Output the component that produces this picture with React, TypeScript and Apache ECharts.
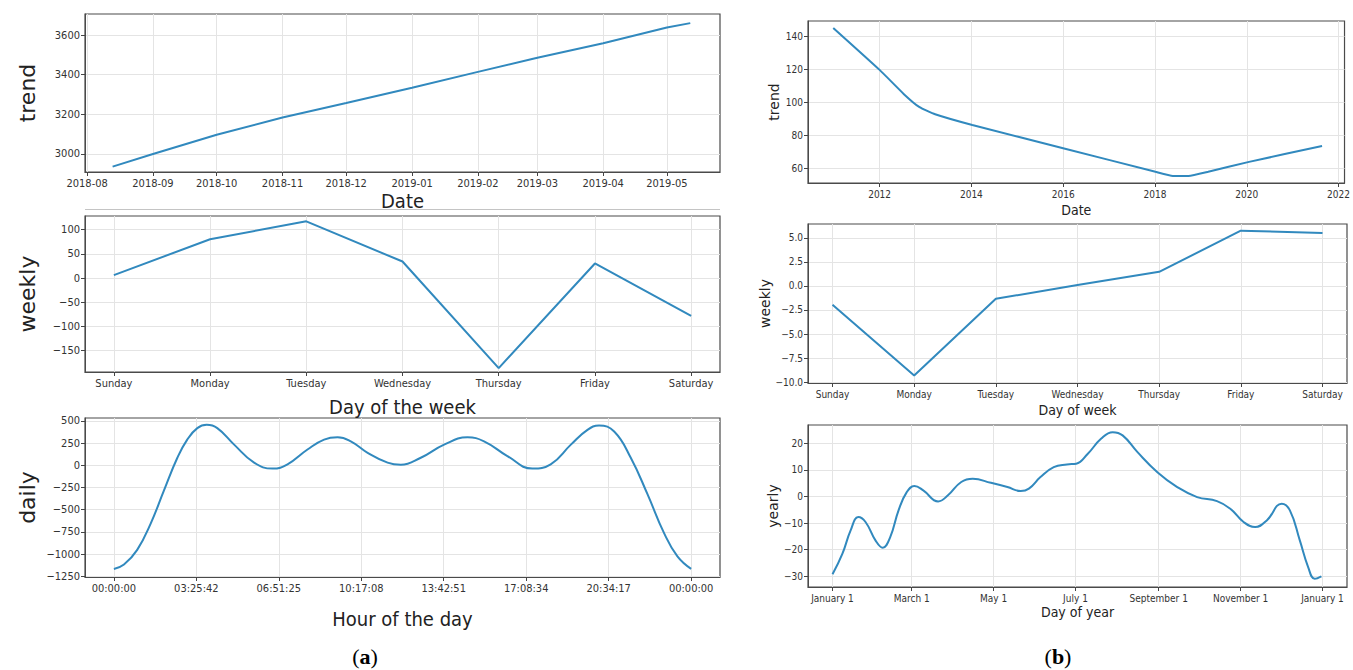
import { useEffect, useRef } from 'react';
import * as echarts from 'echarts';

// ---------- (a) trend ----------
const trendADates = ['2018-08-13', '2018-09-01', '2018-10-01', '2018-11-01', '2018-12-01', '2019-01-01', '2019-02-01', '2019-03-01', '2019-04-01', '2019-05-01', '2019-05-12'];
const trendAValues = [2936, 3000, 3097, 3184, 3257, 3334, 3414, 3485, 3558, 3638, 3660];
const trendAMonthTicks = ['2018-08', '2018-09', '2018-10', '2018-11', '2018-12', '2019-01', '2019-02', '2019-03', '2019-04', '2019-05'];
const trendAYTicks = [3000, 3200, 3400, 3600];

// ---------- (a) weekly ----------
const days = ['Sunday', 'Monday', 'Tuesday', 'Wednesday', 'Thursday', 'Friday', 'Saturday'];
const weeklyAValues = [6, 80, 117, 34, -186, 30, -78];
const weeklyAYTicks = [-150, -100, -50, 0, 50, 100];

// ---------- (a) daily ----------
const dailyHours = [0, 0.42, 0.97, 1.53, 2.08, 2.64, 3.05, 3.47, 3.86, 4.3, 5.0, 5.83, 6.6, 7.22, 8.05, 8.74, 9.3, 9.85, 10.55, 11.38, 11.93, 12.76, 13.73, 14.7, 15.39, 16.36, 17.4, 18.16, 19.0, 19.69, 20.17, 20.8, 21.49, 22.18, 22.88, 23.43, 24];
const dailyValues = [-1167, -1118, -952, -656, -285, 85, 289, 419, 456, 419, 233, 30, -37, 11, 178, 289, 315, 270, 141, 30, 6, 85, 233, 315, 270, 104, -37, 11, 233, 400, 448, 381, 85, -322, -767, -1026, -1167];
const dailyTickLabels = ['00:00:00', '03:25:42', '06:51:25', '10:17:08', '13:42:51', '17:08:34', '20:34:17', '00:00:00'];
const dailyYTicks = [-1250, -1000, -750, -500, -250, 0, 250, 500];

// ---------- (b) trend ----------
const trendBYears = [2010.99, 2012.0, 2012.53, 2012.87, 2013.21, 2014.02, 2016.02, 2018.01, 2018.39, 2018.73, 2019.16, 2020.05, 2021.64];
const trendBValues = [145.1, 119.7, 105, 97.1, 92.8, 86.3, 72.1, 58, 55.5, 55.5, 58, 64, 73.6];
const trendBXTicks = [2012, 2014, 2016, 2018, 2020, 2022];
const trendBYTicks = [60, 80, 100, 120, 140];

// ---------- (b) weekly ----------
const weeklyBValues = [-1.95, -9.32, -1.34, 0.1, 1.47, 5.75, 5.51];
const weeklyBYTicks = [-10, -7.5, -5, -2.5, 0, 2.5, 5];

// ---------- (b) yearly ----------
const yearlyDays = [0, 7.4, 13.5, 19.2, 24.6, 32, 37.4, 43, 49.2, 55.3, 61, 67.6, 78.7, 86, 95.9, 104.5, 118, 130.3, 140.2, 146.3, 154.9, 164.8, 174.6, 181.5, 190.2, 200, 208.7, 216.1, 227.2, 242, 256.8, 271.6, 286.4, 296.3, 306.2, 314.8, 323.5, 334.6, 340.7, 348.1, 354.3, 359.2, 364.2];
const yearlyValues = [-29.25, -21.5, -12.75, -7.75, -9.6, -16.5, -19.25, -15.25, -5.25, 1.6, 3.9, 2.25, -1.9, 0.4, 5.4, 6.6, 5.1, 3.5, 2, 2.9, 7.25, 11, 12, 12.25, 16, 21.6, 24.1, 22.9, 16.6, 9.1, 3.5, -0.25, -1.75, -4.6, -9.6, -11.5, -9, -2.75, -5.25, -16.5, -26.5, -30.9, -30];
const yearlyTickDays = [0, 59, 120, 181, 243, 304, 365];
const yearlyTickLabels = ['January 1', 'March 1', 'May 1', 'July 1', 'September 1', 'November 1', 'January 1'];
const yearlyYTicks = [-30, -20, -10, 0, 10, 20];

const LINE = '#3189be';
const GRIDC = '#e4e4e4';
const BOX = '#4a4a4a';
const TICKFONT = "'DejaVu Sans Condensed','Liberation Sans Narrow',Roboto,sans-serif";
const TITLEFONT = "'Liberation Sans Narrow','DejaVu Sans Condensed',Roboto,sans-serif";

function utc(s: string) {
  const p = s.split('-').map(Number);
  return Date.UTC(p[0], p[1] - 1, p[2] || 1);
}

function xAxisCfg(i: number, o: any) {
  return {
    gridIndex: i,
    type: 'value',
    min: o.min,
    max: o.max,
    axisLine: { show: true, onZero: false, lineStyle: { color: BOX, width: 1 } },
    axisTick: { show: true, length: 4, customValues: o.ticks, lineStyle: { color: '#444' } },
    axisLabel: { customValues: o.ticks, formatter: o.fmt, color: '#333', fontSize: o.fs, fontFamily: TICKFONT, margin: 6, hideOverlap: false, showMinLabel: true, showMaxLabel: true },
    splitLine: { show: true, lineStyle: { color: GRIDC, width: 1 } },
    name: o.name,
    nameLocation: 'middle',
    nameGap: o.nameGap,
    nameTextStyle: { fontSize: o.nameFs, fontFamily: TITLEFONT, color: '#222' },
  };
}

function yAxisCfg(i: number, o: any) {
  return {
    gridIndex: i,
    type: 'value',
    min: o.min,
    max: o.max,
    axisLine: { show: true, onZero: false, lineStyle: { color: BOX, width: 1 } },
    axisTick: { show: true, length: 4, customValues: o.ticks, lineStyle: { color: '#444' } },
    axisLabel: { customValues: o.ticks, formatter: o.fmt, color: '#333', fontSize: o.fs, fontFamily: TICKFONT, margin: 5, showMinLabel: true, showMaxLabel: true },
    splitLine: { show: true, lineStyle: { color: GRIDC, width: 1 } },
    name: o.name,
    nameLocation: 'middle',
    nameRotate: 90,
    nameGap: o.nameGap,
    nameTextStyle: { fontSize: o.nameFs, fontFamily: "'DejaVu Sans',sans-serif", color: '#222' },
  };
}

function lineSeries(i: number, data: number[][], smooth: any) {
  return {
    type: 'line',
    xAxisIndex: i,
    yAxisIndex: i,
    data,
    smooth,
    showSymbol: false,
    symbol: 'none',
    lineStyle: { color: LINE, width: 2 },
    z: 5,
  };
}

export default function App() {
  const ref = useRef<HTMLDivElement>(null);
  useEffect(() => {
    const chart = echarts.init(ref.current!, null, { renderer: 'svg' });
    const monthTs = trendAMonthTicks.map((m) => utc(m + '-01'));
    const dailyTicks = dailyTickLabels.map((_, k) => (24 * k) / 7);
    const weekTicks = days.map((_, k) => k);
    const fmtDay = (v: number) => days[Math.round(v)] ?? '';
    const neg = (s: string, v: number) => (v < 0 ? '\u2212' + s.replace('-', '') : s);

    const grids = [
      { left: 85, top: 14, width: 635, height: 158 },
      { left: 85, top: 216, width: 635, height: 156 },
      { left: 85, top: 418, width: 635, height: 159 },
      { left: 808, top: 21, width: 539, height: 162 },
      { left: 808, top: 224, width: 539, height: 159 },
      { left: 808, top: 425, width: 539, height: 162 },
    ].map((g) => ({ ...g, show: true, borderColor: BOX, borderWidth: 1.2, backgroundColor: '#fff' }));

    const caption = (letter: string, x: number) => ({
      type: 'text', x, y: 656,
      style: {
        text: '{p|(}{b|' + letter + '}{p|)}', align: 'center', verticalAlign: 'middle',
        rich: {
          p: { fontSize: 22, fontFamily: "'Liberation Serif',serif", fill: '#000' },
          b: { fontSize: 22, fontWeight: 'bold', fontFamily: "'Liberation Serif',serif", fill: '#000' },
        },
      },
    });

    const option: any = {
      animation: false,
      backgroundColor: '#fff',
      grid: grids,
      xAxis: [
        xAxisCfg(0, {
          min: utc('2018-07-31'), max: utc('2019-05-26'), ticks: monthTs,
          fmt: (v: number) => trendAMonthTicks[monthTs.indexOf(v)] ?? '',
          fs: 11, name: 'Date', nameGap: 19, nameFs: 20,
        }),
        xAxisCfg(1, { min: -0.3, max: 6.3, ticks: weekTicks, fmt: fmtDay, fs: 11, name: 'Day of the week', nameGap: 25, nameFs: 20 }),
        xAxisCfg(2, {
          min: -1.2, max: 25.2, ticks: dailyTicks,
          fmt: (v: number) => { const k = dailyTicks.findIndex((t) => Math.abs(t - v) < 1e-6); return k >= 0 ? dailyTickLabels[k] : ''; },
          fs: 11, name: 'Hour of the day', nameGap: 32, nameFs: 20,
        }),
        xAxisCfg(3, { min: 2010.44, max: 2022.13, ticks: trendBXTicks, fmt: (v: number) => String(v), fs: 10, name: 'Date', nameGap: 20, nameFs: 14 }),
        xAxisCfg(4, { min: -0.3, max: 6.3, ticks: weekTicks, fmt: fmtDay, fs: 10, name: 'Day of week', nameGap: 20, nameFs: 14 }),
        xAxisCfg(5, {
          min: -18.25, max: 383.25, ticks: yearlyTickDays,
          fmt: (v: number) => yearlyTickLabels[yearlyTickDays.indexOf(v)] ?? '',
          fs: 10, name: 'Day of year', nameGap: 18, nameFs: 14,
        }),
      ],
      yAxis: [
        yAxisCfg(0, { min: 2909, max: 3706, ticks: trendAYTicks, fmt: (v: number) => String(v), fs: 11, name: 'trend', nameGap: 47, nameFs: 22 }),
        yAxisCfg(1, { min: -194, max: 128, ticks: weeklyAYTicks, fmt: (v: number) => neg(String(v), v), fs: 11, name: 'weekly', nameGap: 47, nameFs: 22 }),
        yAxisCfg(2, { min: -1258, max: 533, ticks: dailyYTicks, fmt: (v: number) => neg(String(v), v), fs: 11, name: 'daily', nameGap: 47, nameFs: 22 }),
        yAxisCfg(3, { min: 51.2, max: 149.3, ticks: trendBYTicks, fmt: (v: number) => String(v), fs: 10, name: 'trend', nameGap: 27, nameFs: 14 }),
        yAxisCfg(4, { min: -10.1, max: 6.45, ticks: weeklyBYTicks, fmt: (v: number) => neg(v.toFixed(1), v), fs: 10, name: 'weekly', nameGap: 28, nameFs: 14 }),
        yAxisCfg(5, { min: -34, max: 26.8, ticks: yearlyYTicks, fmt: (v: number) => neg(String(v), v), fs: 10, name: 'yearly', nameGap: 27, nameFs: 14 }),
      ],
      series: [
        lineSeries(0, trendADates.map((d, k) => [utc(d), trendAValues[k]]), false),
        lineSeries(1, days.map((_, k) => [k, weeklyAValues[k]]), false),
        lineSeries(2, dailyHours.map((h, k) => [h, dailyValues[k]]), 0.45),
        lineSeries(3, trendBYears.map((y, k) => [y, trendBValues[k]]), 0.15),
        lineSeries(4, days.map((_, k) => [k, weeklyBValues[k]]), false),
        lineSeries(5, yearlyDays.map((d, k) => [d, yearlyValues[k]]), 0.45),
      ],
      graphic: [
        { type: 'line', shape: { x1: 85, y1: 209.5, x2: 720, y2: 209.5 }, style: { stroke: '#c4c4c4', lineWidth: 1 } },
        caption('a', 365),
        caption('b', 1058),
      ],
    };
    chart.setOption(option);
    return () => chart.dispose();
  }, []);
  return <div ref={ref} style={{ position: 'absolute', left: 0, top: 0, width: 1353, height: 670, background: '#fff' }} />;
}
